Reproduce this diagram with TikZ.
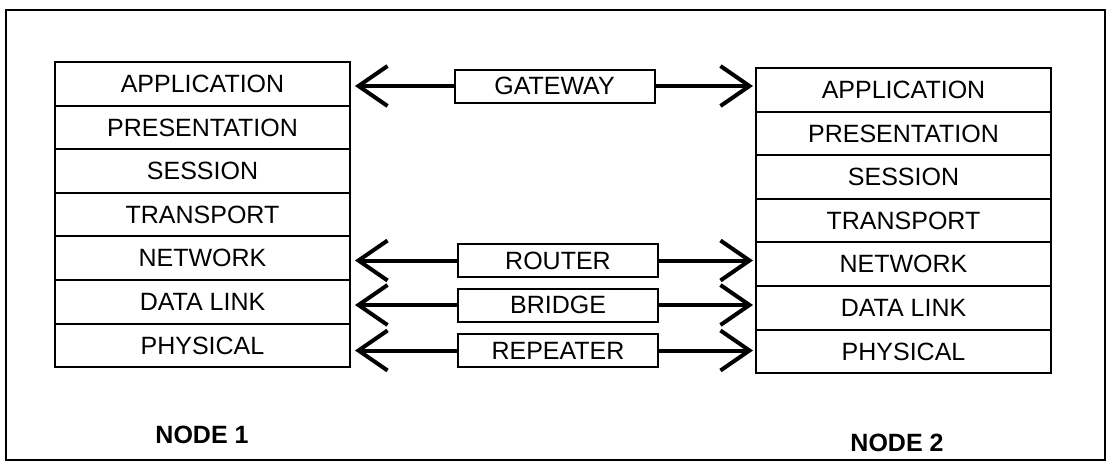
\documentclass[tikz,border=0pt]{standalone}
\usepackage{fontspec}
\setmainfont{Liberation Sans}
\usetikzlibrary{arrows.meta,positioning}

\begin{document}
\begin{tikzpicture}[x=0.5pt, y=-0.5pt,
  layer/.style={draw, line width=1pt, outer sep=0pt, inner sep=0pt,
    minimum width=147.5pt, minimum height=21.8pt, font=\fontsize{12.5}{14}\selectfont},
  device/.style={draw, line width=1pt, outer sep=0pt, inner sep=0pt,
    minimum width=100pt, minimum height=16.5pt, font=\fontsize{12.5}{14}\selectfont},
  link/.style={line width=2pt, -{Straight Barb[length=14.5pt,width=20pt]}},
  title/.style={font=\fontsize{12.5}{14}\selectfont\bfseries},
]
\useasboundingbox (0,0) rectangle (1109,467);

% Frame
\draw[line width=0.75pt] (6,10) rectangle (1105,460);

% Node 1 stack
\node[layer] (l1) at (202.5,83.8) {APPLICATION};
\node[layer, below=0pt of l1] (l2) {PRESENTATION};
\node[layer, below=0pt of l2] (l3) {SESSION};
\node[layer, below=0pt of l3] (l4) {TRANSPORT};
\node[layer, below=0pt of l4] (l5) {NETWORK};
\node[layer, below=0pt of l5] (l6) {DATA LINK};
\node[layer, below=0pt of l6] (l7) {PHYSICAL};

% Node 2 stack
\node[layer] (r1) at (903.5,89.8) {APPLICATION};
\node[layer, below=0pt of r1] (r2) {PRESENTATION};
\node[layer, below=0pt of r2] (r3) {SESSION};
\node[layer, below=0pt of r3] (r4) {TRANSPORT};
\node[layer, below=0pt of r4] (r5) {NETWORK};
\node[layer, below=0pt of r5] (r6) {DATA LINK};
\node[layer, below=0pt of r6] (r7) {PHYSICAL};

% Devices
\node[device] (gw) at (554.5,86) {GATEWAY};
\node[device] (rt) at (558,260.5) {ROUTER};
\node[device] (br) at (558,305) {BRIDGE};
\node[device] (rp) at (558,350.5) {REPEATER};

% Links
\draw[link, shorten >=2.5pt] (gw.west) -- (gw.west -| l1.east);
\draw[link, shorten >=1.5pt] (gw.east) -- (gw.east -| r1.west);
\draw[link, shorten >=2.5pt] (rt.west) -- (rt.west -| l5.east);
\draw[link, shorten >=1.5pt] (rt.east) -- (rt.east -| r5.west);
\draw[link, shorten >=2.5pt] (br.west) -- (br.west -| l6.east);
\draw[link, shorten >=1.5pt] (br.east) -- (br.east -| r6.west);
\draw[link, shorten >=2.5pt] (rp.west) -- (rp.west -| l7.east);
\draw[link, shorten >=1.5pt] (rp.east) -- (rp.east -| r7.west);

% Labels
\node[title] (n1) at (202,435) {NODE 1};
\node[title] (n2) at (897,443) {NODE 2};
\end{tikzpicture}
\end{document}
